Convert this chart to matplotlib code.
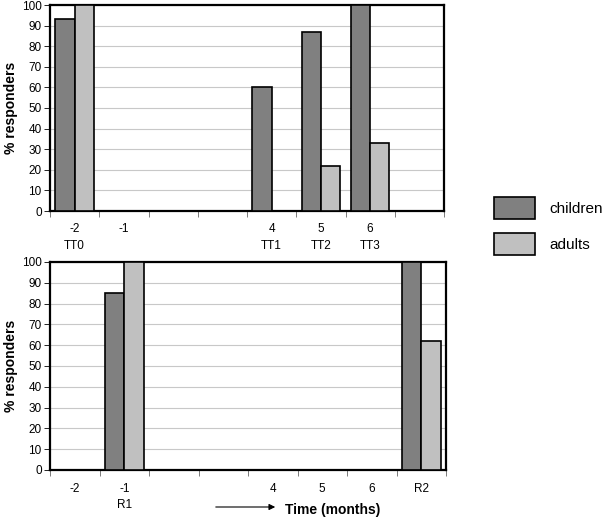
import matplotlib
matplotlib.use("Agg")
import matplotlib.pyplot as plt
from matplotlib.patches import Patch, FancyArrowPatch
import numpy as np

plt.rcParams['font.family'] = ['Liberation Sans', 'DejaVu Sans']

top_labels = ["-2\nTT0", "-1", "", "", "4\nTT1", "5\nTT2", "6\nTT3", ""]
top_children = [93, 0, 0, 0, 60, 87, 100, 0]
top_adults = [100, 0, 0, 0, 0, 22, 33, 0]

bot_labels = ["-2", "-1\nR1", "", "", "4", "5", "6", "R2"]
bot_children = [0, 85, 0, 0, 0, 0, 0, 100]
bot_adults = [0, 100, 0, 0, 0, 0, 0, 62]

series_names = ["children", "adults"]
colors = ["#808080", "#c0c0c0"]

W, H = 606, 517
fig = plt.figure(figsize=(W / 100, H / 100), dpi=100)

def make_ax(rect, labels, children, adults):
    ax = fig.add_axes(rect)
    n = len(labels)
    x = np.arange(n)
    bw = 0.39
    for vals, off, c in ((children, -bw / 2, colors[0]), (adults, bw / 2, colors[1])):
        v = np.array(vals, dtype=float)
        m = v > 0
        ax.bar(x[m] + off, v[m], width=bw, color=c, edgecolor="black",
               linewidth=1.2, zorder=3)
    ax.set_xlim(-0.5, n - 0.5)
    ax.set_ylim(0, 100)
    ax.set_yticks(np.arange(0, 101, 10))
    ax.yaxis.grid(True, color="#c8c8c8", linewidth=0.8, zorder=0)
    ax.set_axisbelow(True)
    ax.set_xticks(x)
    ax.set_xticklabels(labels, fontsize=8.5, linespacing=1.5)
    ax.set_xticks(np.arange(-0.5, n, 1.0), minor=True)
    ax.tick_params(axis="x", which="major", length=0, pad=9)
    ax.tick_params(axis="x", which="minor", length=4, width=0.6, color="#666666")
    ax.tick_params(axis="y", length=4, width=0.6, labelsize=8.5, pad=2)
    for s in ax.spines.values():
        s.set_linewidth(1.6)
    ax.set_ylabel("% responders", fontsize=10, fontweight="bold", labelpad=3)
    return ax

ax1 = make_ax([50 / W, 1 - 211 / H, 394 / W, 206 / H], top_labels, top_children, top_adults)
ax2 = make_ax([50 / W, 1 - 470 / H, 396 / W, 208 / H], bot_labels, bot_children, bot_adults)

# arrow and axis caption
fig.text(285 / W, 1 - 510 / H, "Time (months)", fontsize=10, fontweight="bold",
         ha="left", va="center")
fig.add_artist(FancyArrowPatch(
    (213 / W, 1 - 507 / H), (278 / W, 1 - 507 / H), transform=fig.transFigure,
    arrowstyle="-|>", mutation_scale=9, color="black", linewidth=0.8))

handles = [Patch(facecolor=c, edgecolor="black", linewidth=1.2) for c in colors]
fig.legend(handles, series_names, loc="upper left",
           bbox_to_anchor=(494 / W, 1 - 197 / H), frameon=False, borderpad=0,
           borderaxespad=0, fontsize=11, handlelength=2.7, handleheight=1.83,
           labelspacing=0.9, handletextpad=0.9)

fig.savefig("out.png", dpi=100)
